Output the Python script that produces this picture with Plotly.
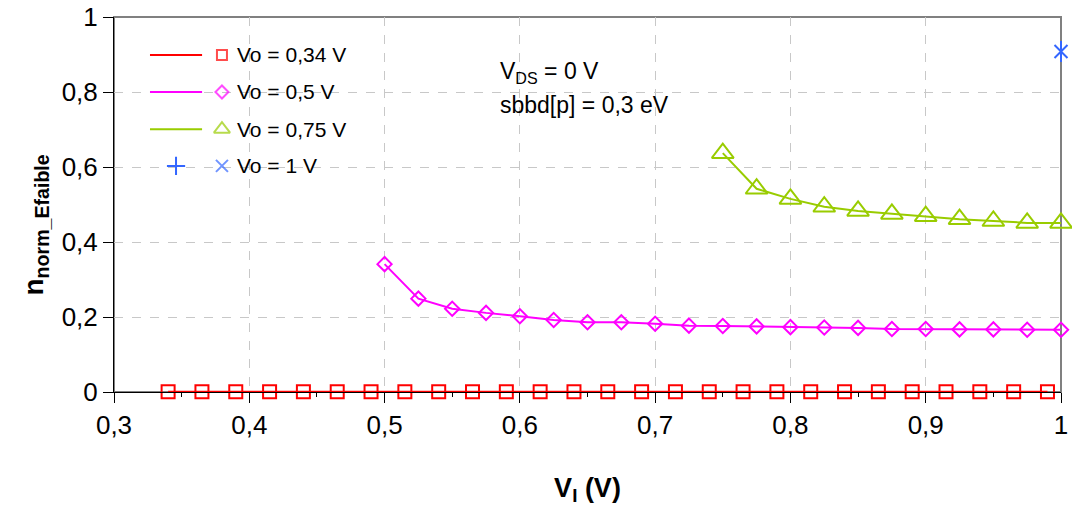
import plotly.graph_objects as go

# ---------------- data ----------------
vi_034 = [0.34, 0.365, 0.39, 0.415, 0.44, 0.465, 0.49, 0.515, 0.54, 0.565, 0.59, 0.615, 0.64, 0.665,
          0.69, 0.715, 0.74, 0.765, 0.79, 0.815, 0.84, 0.865, 0.89, 0.915, 0.94, 0.965, 0.99]
n_034 = [0.001] * 27

vi_05 = [0.5, 0.525, 0.55, 0.575, 0.6, 0.625, 0.65, 0.675, 0.7, 0.725, 0.75, 0.775, 0.8,
         0.825, 0.85, 0.875, 0.9, 0.925, 0.95, 0.975, 1.0]
n_05 = [0.341, 0.249, 0.222, 0.211, 0.202, 0.192, 0.186, 0.186, 0.182, 0.177, 0.176, 0.175,
        0.173, 0.172, 0.171, 0.168, 0.168, 0.167, 0.167, 0.166, 0.166]

vi_075 = [0.75, 0.775, 0.8, 0.825, 0.85, 0.875, 0.9, 0.925, 0.95, 0.975, 1.0]
n_075 = [0.637, 0.542, 0.515, 0.494, 0.483, 0.475, 0.469, 0.461, 0.456, 0.451, 0.451]

vi_1 = [1.0]
n_1 = [0.908]

series_names = ["Vo = 0,34 V", "Vo = 0,5 V", "Vo = 0,75 V", "Vo = 1 V"]
colors = ["#FF0000", "#FF00FF", "#99CC00", "#3366FF"]

x_ticks = [0.3, 0.4, 0.5, 0.6, 0.7, 0.8, 0.9, 1.0]
y_ticks = [0, 0.2, 0.4, 0.6, 0.8, 1.0]

FONT = "Liberation Sans, Arial, sans-serif"

fig = go.Figure()

fig.add_trace(go.Scatter(x=vi_034, y=n_034, mode="lines+markers", name=series_names[0],
                         line=dict(color=colors[0], width=2),
                         marker=dict(symbol="square-open", size=13, color=colors[0],
                                     line=dict(width=2, color=colors[0])),
                         showlegend=False, cliponaxis=False))
fig.add_trace(go.Scatter(x=vi_05, y=n_05, mode="lines+markers", name=series_names[1],
                         line=dict(color=colors[1], width=2),
                         marker=dict(symbol="diamond-open", size=11, color=colors[1],
                                     line=dict(width=2, color=colors[1])),
                         showlegend=False, cliponaxis=False))
fig.add_trace(go.Scatter(x=vi_075, y=n_075, mode="lines+markers", name=series_names[2],
                         line=dict(color=colors[2], width=2),
                         marker=dict(symbol="triangle-up-open", size=19, color=colors[2],
                                     line=dict(width=2, color=colors[2])),
                         showlegend=False, cliponaxis=False))
fig.add_trace(go.Scatter(x=vi_1, y=n_1, mode="markers", name=series_names[3],
                         marker=dict(symbol="x-thin-open", size=13, color=colors[3],
                                     line=dict(width=2, color=colors[3])),
                         showlegend=False, cliponaxis=False))
fig.add_trace(go.Scatter(x=vi_1, y=n_1, mode="markers", name=series_names[3] + " +",
                         marker=dict(symbol="line-ns-open", size=15, color=colors[3],
                                     line=dict(width=2, color=colors[3])),
                         showlegend=False, cliponaxis=False))

# ---------------- custom Excel-like legend (overlay axes, fraction of plot area) ----------------
leg_rows = [0.899, 0.800, 0.701, 0.603]
leg_line_x0, leg_line_x1, leg_marker_x, leg_text_x = 0.038, 0.093, 0.114, 0.128
leg_symbols = ["square-open", "diamond-open", "triangle-up-open", "x-thin-open"]
leg_sizes = [10, 10, 14, 12]

shapes = []
for i in range(3):
    shapes.append(dict(type="line", xref="paper", yref="paper",
                       x0=leg_line_x0, x1=leg_line_x1, y0=leg_rows[i], y1=leg_rows[i],
                       line=dict(color=colors[i], width=2)))

fig.add_trace(go.Scatter(x=[leg_marker_x] * 4, y=leg_rows, mode="markers", xaxis="x2", yaxis="y2",
                         marker=dict(symbol=leg_symbols, size=leg_sizes, color=colors,
                                     line=dict(width=2, color=colors)),
                         showlegend=False, hoverinfo="skip", cliponaxis=False))
fig.add_trace(go.Scatter(x=[(leg_line_x0 + leg_line_x1) / 2], y=[leg_rows[3]], mode="markers",
                         xaxis="x2", yaxis="y2",
                         marker=dict(symbol="cross-thin-open", size=13, color=colors[3],
                                     line=dict(width=2, color=colors[3])),
                         showlegend=False, hoverinfo="skip", cliponaxis=False))

annotations = []
for i, name in enumerate(series_names):
    annotations.append(dict(xref="paper", yref="paper", x=leg_text_x, y=leg_rows[i],
                            xanchor="left", yanchor="middle", text=name, showarrow=False,
                            font=dict(family=FONT, size=21, color="black")))

annotations.append(dict(xref="paper", yref="paper", x=0.405, y=0.853, xanchor="left",
                        yanchor="middle", text="V<sub>DS</sub> = 0 V", showarrow=False,
                        font=dict(family=FONT, size=23, color="black")))
annotations.append(dict(xref="paper", yref="paper", x=0.405, y=0.765, xanchor="left",
                        yanchor="middle", text="sbbd[p] = 0,3 eV", showarrow=False,
                        font=dict(family=FONT, size=23, color="black")))
# y axis title
annotations.append(dict(xref="paper", yref="paper", x=-0.083, y=0.445, xanchor="center",
                        yanchor="middle", textangle=-90,
                        text="<b>n<sub>norm_Efaible</sub></b>", showarrow=False,
                        font=dict(family=FONT, size=28, color="black")))

# gray top/right frame
shapes.append(dict(type="rect", xref="paper", yref="paper", x0=0, x1=1, y0=0, y1=1,
                   line=dict(color="#808080", width=2), layer="below"))

fig.update_layout(
    width=1072, height=508,
    margin=dict(l=114, r=11, t=17, b=116, autoexpand=False),
    paper_bgcolor="white", plot_bgcolor="white",
    separators=", ",
    font=dict(family=FONT, size=26, color="black"),
    shapes=shapes, annotations=annotations,
    xaxis=dict(range=[0.3, 1.0], tickvals=x_ticks, ticks="outside", ticklen=10, tickwidth=1,
               tickcolor="black", showline=True, linecolor="black", linewidth=1,
               showgrid=True, gridcolor="#C8C8C8", griddash="dash", gridwidth=1,
               zeroline=False, tickformat=".1~f", automargin=False,
               tickfont=dict(family=FONT, size=26),
               minor=dict(dtick=0.05, ticks="outside", ticklen=4, tickcolor="black", showgrid=False),
               title=dict(text="<b>V<sub>I</sub> (V)</b>", font=dict(family=FONT, size=27), standoff=38)),
    yaxis=dict(range=[0, 1.0], tickvals=y_ticks, ticks="outside", ticklen=10, tickwidth=1,
               tickcolor="black", showline=True, linecolor="black", linewidth=1,
               showgrid=True, gridcolor="#C8C8C8", griddash="dash", gridwidth=1,
               zeroline=False, tickformat=".1~f", automargin=False,
               tickfont=dict(family=FONT, size=26)),
    xaxis2=dict(range=[0, 1], overlaying="x", visible=False, fixedrange=True, automargin=False),
    yaxis2=dict(range=[0, 1], overlaying="y", visible=False, fixedrange=True, automargin=False),
)

fig.write_html("out.html", config={"displayModeBar": False},
               post_script="document.body.style.margin='0';")
